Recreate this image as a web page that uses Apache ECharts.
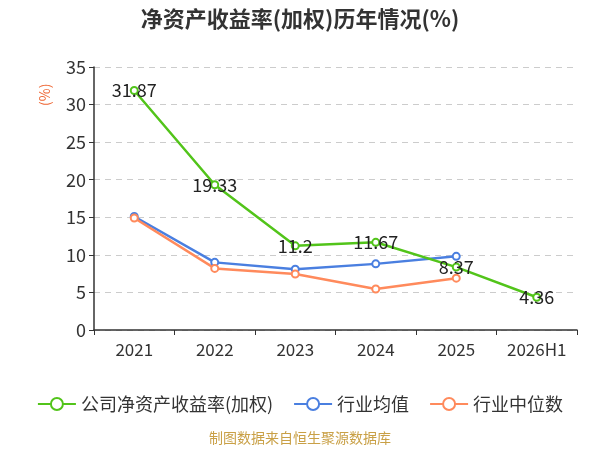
<!DOCTYPE html>
<html>
<head>
<meta charset="utf-8">
<script src="https://cdn.jsdelivr.net/npm/echarts@6/dist/echarts.min.js"></script>
<style>
  html, body { margin: 0; padding: 0; background: #fff; }
  #container { width: 600px; height: 450px; }
</style>
</head>
<body>
<div id="container"></div>
<script>
var years = ['2021', '2022', '2023', '2024', '2025', '2026H1'];
var companyRoe = [31.87, 19.33, 11.2, 11.67, 8.37, 4.36];
var industryAvg = [15.1, 9.0, 8.1, 8.8, 9.8];
var industryMedian = [14.9, 8.2, 7.45, 5.45, 6.9];

var font = '"Noto Sans CJK SC", "Noto Sans", sans-serif';
var myChart = echarts.init(document.getElementById('container'));

function lineSeries(name, data, color, showLabel) {
    return {
        name: name,
        type: 'line',
        data: data,
        symbol: 'emptyCircle',
        symbolSize: 7,
        lineStyle: { color: color, width: 2.5 },
        itemStyle: { color: color },
        label: {
            show: showLabel,
            position: 'inside',
            color: '#222',
            fontSize: 18,
            fontFamily: font
        },
        z: showLabel ? 3 : 2
    };
}

var option = {
    animation: false,
    title: {
        text: '净资产收益率(加权)历年情况(%)',
        left: 'center',
        top: 3,
        textStyle: { fontSize: 22, fontWeight: 'bold', color: '#333', fontFamily: font }
    },
    legend: {
        bottom: 32,
        left: 'center',
        itemWidth: 38,
        itemHeight: 15,
        itemGap: 20,
        textStyle: { fontSize: 18, color: '#333', fontFamily: font },
        data: ['公司净资产收益率(加权)', '行业均值', '行业中位数']
    },
    graphic: [{
        type: 'text',
        left: 'center',
        top: 431,
        style: { text: '制图数据来自恒生聚源数据库', fill: '#c9a046', fontSize: 14, fontFamily: font }
    }, {
        type: 'text',
        x: 38,
        y: 106,
        rotation: Math.PI / 2,
        style: { text: '(%)', fill: '#ee6633', fontSize: 14, fontFamily: font }
    }],
    grid: { left: 94, right: 23, top: 67, bottom: 120 },
    xAxis: {
        type: 'category',
        data: years,
        axisLine: { lineStyle: { color: '#333', width: 1.5 } },
        axisTick: { show: true, lineStyle: { color: '#333' } },
        axisLabel: { interval: 0, fontSize: 17, color: '#333', margin: 11, fontFamily: font }
    },
    yAxis: {
        type: 'value',
        min: 0,
        max: 35,
        interval: 5,
        axisLine: { show: true, lineStyle: { color: '#333', width: 1.5 } },
        axisTick: { show: true, lineStyle: { color: '#333' } },
        axisLabel: { fontSize: 18, color: '#333', fontFamily: font },
        splitLine: { lineStyle: { color: '#ccc', type: [6, 5] } }
    },
    series: [
        lineSeries('公司净资产收益率(加权)', companyRoe, '#52c41a', true),
        lineSeries('行业均值', industryAvg, '#4a7fe0', false),
        lineSeries('行业中位数', industryMedian, '#ff8a5c', false)
    ]
};

myChart.setOption(option);
</script>
</body>
</html>
